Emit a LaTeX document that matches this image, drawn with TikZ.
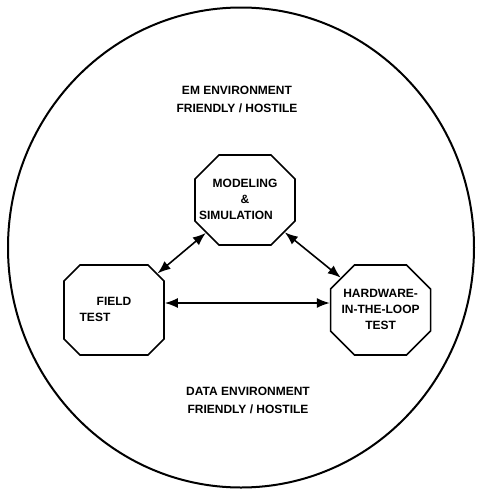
\documentclass[tikz,border=0pt]{standalone}
\usepackage{fontspec}
\setmainfont{Liberation Sans}
\usepackage{tikz}
\usetikzlibrary{shapes.misc, arrows.meta, positioning}
\newcommand{\octtext}[1]{\makebox[0pt]{\begin{tabular}{@{}c@{}}#1\end{tabular}}}

\begin{document}
\begin{tikzpicture}[
    x=1pt, y=-1pt,
    octbox/.style={
        chamfered rectangle, draw, line width=1.6pt,
        chamfered rectangle xsep=25pt, chamfered rectangle ysep=25pt,
        minimum width=100pt, minimum height=90pt, inner sep=0pt,
        font=\bfseries\fontsize{12}{16}\selectfont
    },
    envlabel/.style={
        align=center, font=\bfseries\fontsize{12}{18}\selectfont
    },
    linkarrow/.style={
        {Latex[length=13pt,width=10pt]}-{Latex[length=13pt,width=10pt]}, line width=1.6pt
    }
]
\useasboundingbox (0,0) rectangle (479,491);

% Outer environment
\draw[line width=2pt] (241,247.5) ellipse [x radius=233, y radius=240];

% Labels
\node[envlabel] (emenv) at (237,99) {EM ENVIRONMENT\\FRIENDLY / HOSTILE};
\node[envlabel] (dataenv) at (248,400) {DATA ENVIRONMENT\\FRIENDLY / HOSTILE};

% Nodes
\node[octbox] (modsim) at (245,200) {\octtext{MODELING\\\&\\SIMULATION\hspace*{18pt}}};
\node[octbox] (field) at (114,310) {\octtext{FIELD\\TEST\hspace*{38pt}}};
\node[octbox, right=165pt of field] (hil) {\octtext{HARDWARE-\\IN-THE-LOOP\\TEST}};

% Connections
\draw[linkarrow] (modsim) -- (field);
\draw[linkarrow] (modsim) -- (hil);
\draw[linkarrow] ([yshift=7pt]field.east) -- ([yshift=7pt]hil.west);

\end{tikzpicture}
\end{document}
